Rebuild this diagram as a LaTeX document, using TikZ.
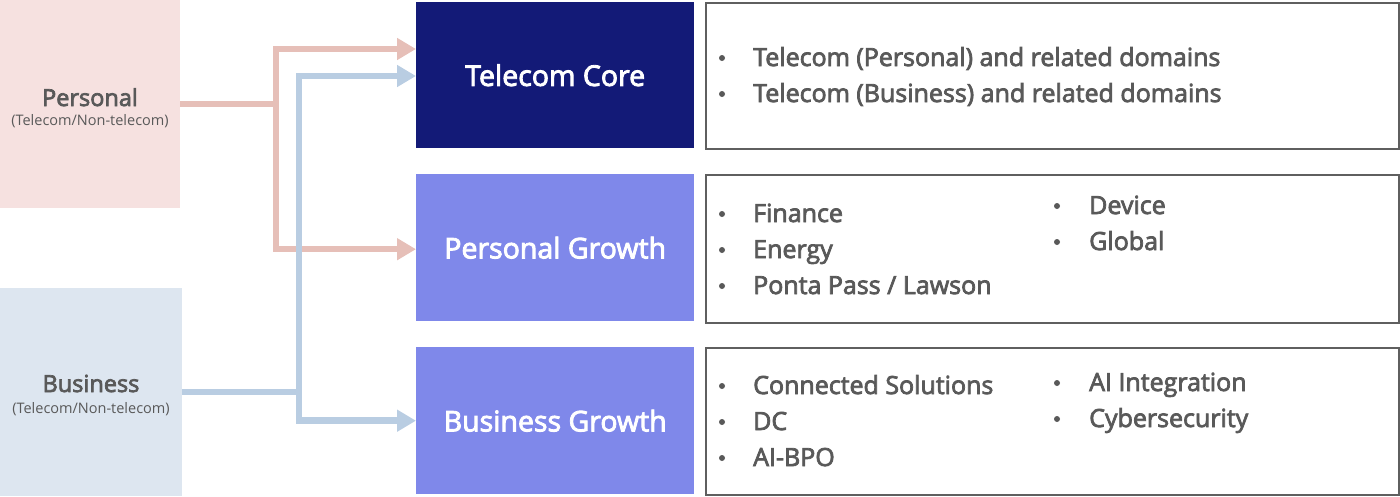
\documentclass[tikz,border=0pt]{standalone}
\usepackage{fontspec}
\setmainfont{Open Sans}
\newfontfamily\sbf{Open Sans}[FakeBold=3]
\usetikzlibrary{arrows.meta,calc}
\definecolor{personalbg}{HTML}{F6E1E0}
\definecolor{businessbg}{HTML}{DDE6F0}
\definecolor{pinkarrow}{HTML}{E6BFB8}
\definecolor{bluearrow}{HTML}{B9CDE2}
\definecolor{navy}{HTML}{131A77}
\definecolor{peri}{HTML}{7F88EA}
\definecolor{textgray}{HTML}{595959}
\definecolor{bordergray}{HTML}{5F5F5F}
\tikzset{
  srcbox/.style={rectangle, inner sep=0pt, anchor=north west},
  catbox/.style={rectangle, inner sep=0pt, anchor=north west, minimum width=278pt, text=white, font=\sbf\fontsize{28.5}{32}\selectfont},
  listbox/.style={rectangle, draw=bordergray, line width=2pt, inner sep=0pt, anchor=north west, minimum width=693pt},
  item/.style={anchor=base west, inner sep=0pt, text=textgray, font=\sbf\fontsize{25}{30}\selectfont},
  dotb/.style={circle, fill=textgray, inner sep=0pt, minimum size=6pt},
  srctitle/.style={anchor=base, inner sep=0pt, text=textgray, font=\sbf\fontsize{23.5}{28}\selectfont},
  srcsub/.style={anchor=base, inner sep=0pt, text=textgray, font=\fontsize{14.5}{17}\selectfont},
  pk/.style={draw=pinkarrow, line width=6.5pt, line join=miter, -{Triangle[length=19pt,width=21pt]}},
  bl/.style={draw=bluearrow, line width=6.5pt, line join=miter, -{Triangle[length=19pt,width=21pt]}}
}
\begin{document}
\begin{tikzpicture}[x=1pt,y=-1pt]
\useasboundingbox (0,0) rectangle (1400,496);
% source boxes
\node[srcbox, fill=personalbg, minimum width=180pt, minimum height=208pt] (personal) at (0,0) {};
\node[srcbox, fill=businessbg, minimum width=182pt, minimum height=208pt] (business) at (0,288) {};
\node[srctitle] (ptitle) at (90,106) {Personal};
\node[srcsub] (psub) at (90,125) {(Telecom/Non-telecom)};
\node[srctitle] (btitle) at (91,392) {Business};
\node[srcsub] (bsub) at (91,413) {(Telecom/Non-telecom)};
% category boxes
\node[catbox, fill=navy, minimum height=146pt] (core) at (416,2) {Telecom Core};
\node[catbox, fill=peri, minimum height=147pt] (pgrow) at (416,174) {Personal Growth};
\node[catbox, fill=peri, minimum height=147pt] (bgrow) at (416,347) {Business Growth};
% list boxes
\node[listbox, minimum height=146pt] (lcore) at (705,2) {};
\node[listbox, minimum height=148pt] (lpg) at (705,174) {};
\node[listbox, minimum height=147pt] (lbg) at (705,347) {};
% arrows
\draw[pk] (personal.east) -| ($(core.north west)+(-140,47)$) -- ($(core.north west)+(0,47)$);
\draw[pk] (personal.east) -| ($(pgrow.west)+(-140,1.5)$) -- ($(pgrow.west)+(0,1.5)$);
\draw[bl] (business.east) -| ($(core.north west)+(-117,74)$) -- ($(core.north west)+(0,74)$);
\draw[bl] (business.east) -| ($(bgrow.west)+(-117,0)$) -- (bgrow.west);
% telecom core items
\node[dotb] (d1) at (722,58) {};
\node[item] (i1) at (753,66) {Telecom (Personal) and related domains};
\node[dotb] (d2) at (722,94) {};
\node[item] (i2) at (753,102) {Telecom (Business) and related domains};
% personal growth items
\node[dotb] (d3) at (722,214) {};
\node[item] (i3) at (753,222) {Finance};
\node[dotb] (d4) at (722,250) {};
\node[item] (i4) at (753,258) {Energy};
\node[dotb] (d5) at (722,286) {};
\node[item] (i5) at (753,294) {Ponta Pass / Lawson};
\node[dotb] (d6) at (1057,206) {};
\node[item] (i6) at (1089,214) {Device};
\node[dotb] (d7) at (1057,242) {};
\node[item] (i7) at (1089,250) {Global};
% business growth items
\node[dotb] (d8) at (722,386) {};
\node[item] (i8) at (753,394) {Connected Solutions};
\node[dotb] (d9) at (722,422) {};
\node[item] (i9) at (753,430) {DC};
\node[dotb] (d10) at (722,458) {};
\node[item] (i10) at (753,466) {AI-BPO};
\node[dotb] (d11) at (1057,383) {};
\node[item] (i11) at (1089,391) {AI Integration};
\node[dotb] (d12) at (1057,419) {};
\node[item] (i12) at (1089,427) {Cybersecurity};
\end{tikzpicture}
\end{document}
